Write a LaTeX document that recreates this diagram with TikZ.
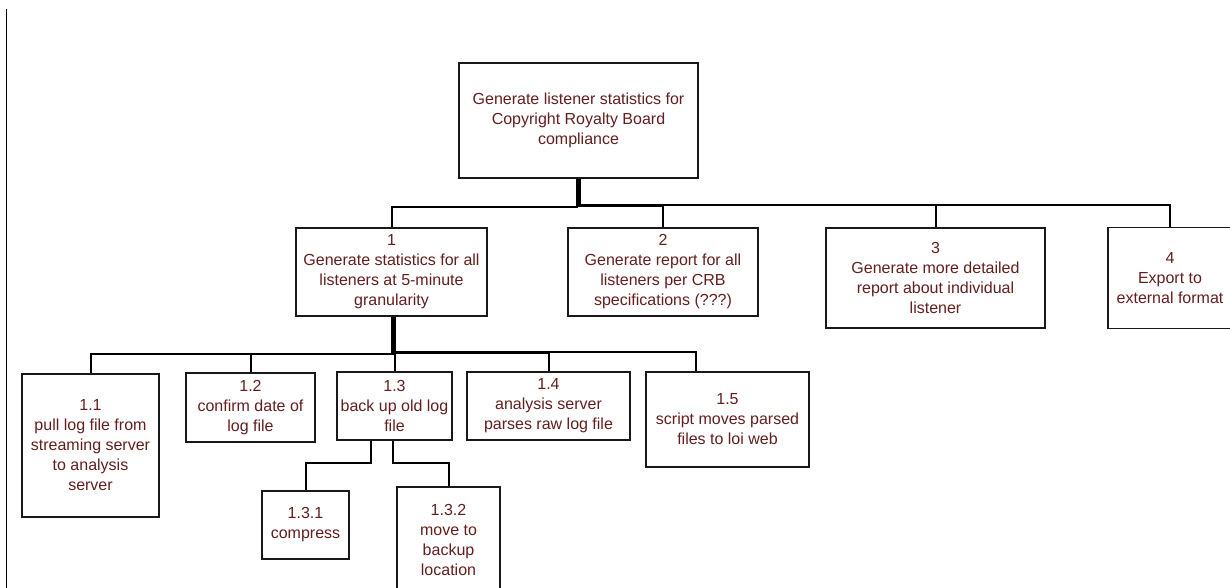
\documentclass[tikz,border=0pt]{standalone}
\usepackage{fontspec}
\setmainfont{Liberation Sans}
\usetikzlibrary{positioning}

\definecolor{wbsred}{RGB}{100,30,30}
\definecolor{wbsline}{RGB}{25,25,25}

\begin{document}
\begin{tikzpicture}[x=1pt,y=-1pt,on grid,
    task/.style={draw=wbsline,line width=1.4pt,text=wbsred,align=center,inner sep=0pt,
                 font=\fontsize{16}{20}\selectfont},
    link/.style={draw=black,line width=2pt}]
        % \draw[help lines] (0,0) grid (1230,588);
      \useasboundingbox (0,0) rectangle (1230,588);
      \draw[line width=1.5pt] (6.5,9) -- (6.5,588);

      \node[task, minimum width=239pt, minimum height=115pt]                        (crb)  at (578.5,120.5)
            {Generate listener statistics for\\Copyright Royalty Board\\compliance};

      \node[task, minimum width=191pt, minimum height=88pt, below left=151.5pt and 187pt of crb]  (n1)
            {1\\Generate statistics for all\\listeners at 5-minute\\granularity};
      \node[task, minimum width=190pt, minimum height=88pt, right=271.5pt of n1]                (n2)
            {2\\Generate report for all\\listeners per CRB\\specifications (???)};
      \node[task, minimum width=219pt, minimum height=100pt, below right=6pt and 272.5pt of n2] (n3)
            {3\\Generate more detailed\\report about individual\\listener};
      \node[task, minimum width=124pt, minimum height=101pt, right=234.5pt of n3]              (n4)
            {4\\Export to\\external format};

      \node[task, minimum width=137pt, minimum height=143pt, below left=173.5pt and 301pt of n1] (n11)
            {1.1\\pull log file from\\streaming server\\to analysis\\server};
      \node[task, minimum width=129pt, minimum height=69pt, above right=38pt and 160pt of n11]  (n12)
            {1.2\\confirm date of\\log file};
      \node[task, minimum width=115pt, minimum height=68pt, above right=1.5pt and 144pt of n12] (n13)
            {1.3\\back up old log\\file};
      \node[task, minimum width=163pt, minimum height=68pt, right=154pt of n13]                (n14)
            {1.4\\analysis server\\parses raw log file};
      \node[task, minimum width=163pt, minimum height=95pt, below right=13.5pt and 179pt of n14] (n15)
            {1.5\\script moves parsed\\files to loi web};

      \node[task, minimum width=87pt, minimum height=68pt, below left=119pt and 89pt of n13]   (n131)
            {1.3.1\\compress};
      \node[task, minimum width=103pt, minimum height=105pt, below right=14.5pt and 143pt of n131] (n132)
            {1.3.2\\move to\\backup\\location};

      % level 1
      \draw[link] ([xshift=-1.4pt]crb.south) -- ++(0,28)   -| (n1.north);
      \draw[link] ([xshift=-0.5pt]crb.south) -- ++(0,27.2) -| (n2.north);
      \draw[link] ([xshift=0.5pt]crb.south)  -- ++(0,26.4) -| (n3.north);
      \draw[link] ([xshift=1.4pt]crb.south)  -- ++(0,25.8) -| (n4.north);

      % level 2
      \draw[link] ([xshift=0pt]n1.south)   -- ++(0,37)   -| (n11.north);
      \draw[link] ([xshift=0.8pt]n1.south) -- ++(0,37)   -| (n12.north);
      \draw[link] ([xshift=1.5pt]n1.south) -- ++(0,37)   -| (n13.north);
      \draw[link] ([xshift=2.2pt]n1.south) -- ++(0,36.2) -| (n14.north);
      \draw[link] ([xshift=3pt]n1.south)   -- ++(0,35.5) -| ([xshift=-31.5pt]n15.north);

      % level 3
      \draw[link] ([xshift=-23.5pt]n13.south) -- ++(0,22) -| (n131.north);
      \draw[link] ([xshift=-1.5pt]n13.south)  -- ++(0,22) -| (n132.north);
\end{tikzpicture}
\end{document}
